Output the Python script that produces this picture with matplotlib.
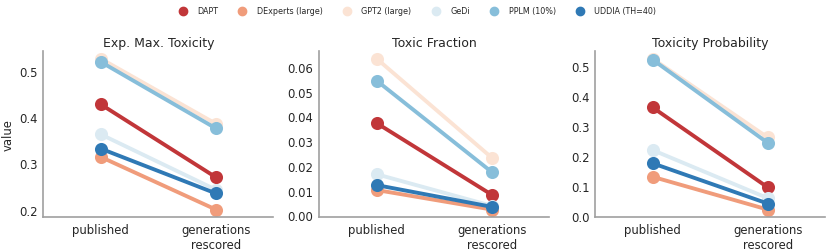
import pandas as pd
import numpy as np
import matplotlib
matplotlib.use("Agg")
import matplotlib.pyplot as plt
from matplotlib.lines import Line2D
from matplotlib.ticker import MultipleLocator
import seaborn as sns

models = ["DAPT", "DExperts (large)", "GPT2 (large)", "GeDi", "PPLM (10%)", "UDDIA (TH=40)"]
stages = ["published", "generations\nrescored"]

# published / rescored per model, same order as models
exp_max_pub = [0.428, 0.314, 0.527, 0.363, 0.520, 0.332]
exp_max_res = [0.270, 0.200, 0.386, 0.243, 0.376, 0.235]

frac_pub = [0.0373, 0.0102, 0.0634, 0.0166, 0.0545, 0.0122]
frac_res = [0.0083, 0.0023, 0.0233, 0.0038, 0.0175, 0.0034]

prob_pub = [0.362, 0.131, 0.524, 0.220, 0.521, 0.176]
prob_res = [0.096, 0.022, 0.262, 0.060, 0.244, 0.042]

panels = [
    ("Exp. Max. Toxicity", exp_max_pub, exp_max_res, 0.1),
    ("Toxic Fraction", frac_pub, frac_res, 0.01),
    ("Toxicity Probability", prob_pub, prob_res, 0.1),
]

sns.set_style("white")
plt.rcParams["font.family"] = ["DejaVu Sans"]
colors = sns.color_palette("RdBu", len(models))

fig = plt.figure(figsize=(8.31, 2.53), dpi=100)
lefts = [0.052, 0.384, 0.716]
axes = [fig.add_axes([l, 0.138, 0.277, 0.656]) for l in lefts]

for ax, (title, pub, res, step) in zip(axes, panels):
    rows = []
    for m, p, r in zip(models, pub, res):
        rows.append({"model": m, "stage": stages[0], "value": p})
        rows.append({"model": m, "stage": stages[1], "value": r})
    df = pd.DataFrame(rows)
    sns.pointplot(data=df, x="stage", y="value", hue="model", hue_order=models,
                  order=stages, palette=colors, ax=ax, markersize=7.3, linewidth=2.8)
    ax.set_title(title, fontsize=9, pad=4, color="#262626")
    ax.set_xlabel("")
    ax.set_ylabel("")
    ax.yaxis.set_major_locator(MultipleLocator(step))
    ax.tick_params(labelsize=8.4, colors="#262626", length=0, pad=4)
    for s in ["top", "right"]:
        ax.spines[s].set_visible(False)
    for s in ["left", "bottom"]:
        ax.spines[s].set_color("#a0a0a0")
        ax.spines[s].set_linewidth(1.2)
    ax.legend_.remove()

axes[0].set_ylabel("value", fontsize=8.4, color="#262626", labelpad=3)

handles = [Line2D([], [], marker="o", linestyle="", color=c, markersize=6) for c in colors]
fig.legend(handles, models, loc="center", bbox_to_anchor=(0.5, 0.953),
           ncol=6, frameon=False, fontsize=5.8)

fig.savefig("out.png", dpi=100)
